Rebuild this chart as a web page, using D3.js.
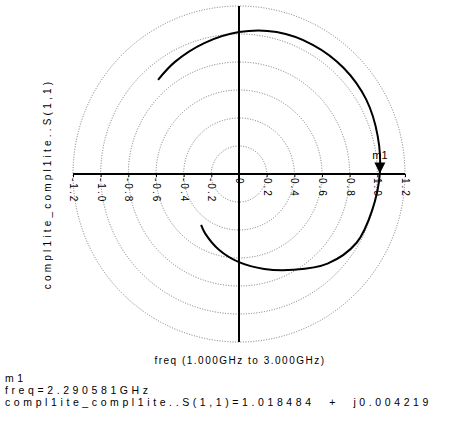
<!DOCTYPE html>
<html><head><meta charset="utf-8">
<script src="https://cdn.jsdelivr.net/npm/d3@7"></script>
<style>body{margin:0;background:#fff}svg{display:block}text{font-family:"Liberation Sans",Arial,sans-serif;fill:#000}</style>
</head><body><svg id="c" width="456" height="436"></svg>
<script>
const gridRadii = [0.2, 0.4, 0.6, 0.8, 1.0, 1.2];
const tickValues = [-1.2, -1.0, -0.8, -0.6, -0.4, -0.2, 0, 0.2, 0.4, 0.6, 0.8, 1.0, 1.2];
const tickLabels = ["-1.2","-1.0","-0.8","-0.6","-0.4","-0.2","0","0.2","0.4","0.6","0.8","1.0","1.2"];
// S(1,1) trace, freq 1 GHz -> 3 GHz (real, imag)
const re = [-0.585,-0.463,-0.251,0.000,0.272,0.533,0.757,0.920,1.003,1.018,0.963,0.850,0.640,0.395,0.182,0.000,-0.145,-0.245,-0.274];
const im = [0.673,0.801,0.935,1.014,1.014,0.923,0.757,0.531,0.269,0.004,-0.258,-0.491,-0.640,-0.684,-0.678,-0.630,-0.541,-0.424,-0.364];
const markerName = "m1";
const markerRe = 1.018484, markerIm = 0.004219;
const yTitle = "compl1ite_compl1ite..S(1,1)";
const xTitle = "freq (1.000GHz to 3.000GHz)";
const readout = ["m1", "freq=2.290581GHz", "compl1ite_compl1ite..S(1,1)=1.018484 + j0.004219"];

const svg = d3.select("#c");
const x = d3.scaleLinear().domain([-1.2, 1.2]).range([73, 405]);
const y = d3.scaleLinear().domain([-1.2, 1.2]).range([342, 6]);

// grid circles
svg.append("g").selectAll("ellipse").data(gridRadii).join("ellipse")
  .attr("cx", x(0)).attr("cy", y(0))
  .attr("rx", d => x(d) - x(0)).attr("ry", d => y(0) - y(d))
  .attr("fill", "none").attr("stroke", "#777").attr("stroke-width", 1)
  .attr("stroke-dasharray", "1,1.6");

// axes
svg.append("line").attr("x1", x(-1.2)).attr("x2", x(1.2)).attr("y1", y(0)).attr("y2", y(0))
  .attr("stroke", "#000").attr("stroke-width", 2);
svg.append("line").attr("x1", x(0)).attr("x2", x(0)).attr("y1", y(1.2)).attr("y2", y(-1.2))
  .attr("stroke", "#000").attr("stroke-width", 2);

const ax = svg.append("g").attr("transform", `translate(0,${y(0)})`)
  .call(d3.axisBottom(x).tickValues(tickValues).tickSize(3).tickFormat((d,i) => tickLabels[i]));
ax.select(".domain").remove();
ax.selectAll(".tick line").attr("stroke", "#000");
ax.selectAll(".tick text")
  .attr("transform", "rotate(90)").attr("text-anchor", "start")
  .attr("x", 4).attr("y", 0).attr("dy", "0.35em")
  .style("font-size", "10px").style("letter-spacing", "2px")
  .style("font-family", '"Liberation Sans",Arial,sans-serif');

// trace
const pts = re.map((r, i) => [r, im[i]]);
svg.append("path").datum(pts)
  .attr("d", d3.line().x(d => x(d[0])).y(d => y(d[1])).curve(d3.curveCatmullRom))
  .attr("fill", "none").attr("stroke", "#000").attr("stroke-width", 2);

// marker
const mx = x(markerRe), my = y(markerIm);
svg.append("path").attr("d", `M${mx},${my} L${mx-5.5},${my-11} L${mx+5.5},${my-11} Z`).attr("fill", "#000");
svg.append("text").attr("x", mx).attr("y", my - 14).attr("text-anchor", "middle")
  .style("font-size", "11px").text(markerName);

// titles
svg.append("text").attr("transform", `translate(51,184) rotate(-90)`).attr("text-anchor", "middle")
  .style("font-size", "10px").style("letter-spacing", "3.2px").text(yTitle);
svg.append("text").attr("x", 240).attr("y", 364).attr("text-anchor", "middle")
  .style("font-size", "10px").style("letter-spacing", "1.5px").text(xTitle);

// readout
svg.append("g").selectAll("text").data(readout).join("text")
  .attr("x", 5).attr("y", (d, i) => 382 + i * 12)
  .style("font-size", "10.5px").style("letter-spacing", "3.6px").style("word-spacing", "8px").text(d => d);
</script></body></html>
